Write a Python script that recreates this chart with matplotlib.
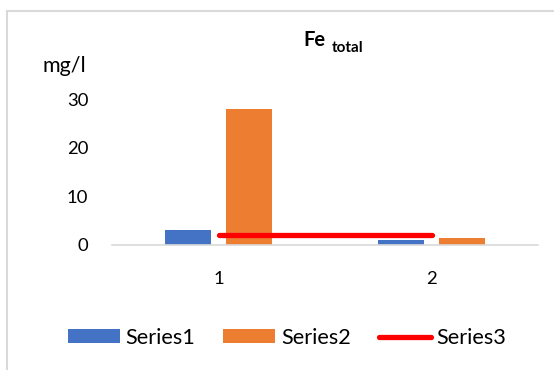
import matplotlib.pyplot as plt
from matplotlib.patches import Patch, Rectangle
from matplotlib.lines import Line2D

# Fe total concentration per sampling point
categories = ["1", "2"]
series1 = [3.0, 1.0]
series2 = [28.0, 1.4]
series3 = [1.9, 1.9]
y_ticks = [0, 10, 20, 30]

BLUE = "#4472C4"
ORANGE = "#ED7D31"
RED = "#FF0000"
GRID = "#D9D9D9"

plt.rcParams["font.family"] = ["Lato", "DejaVu Sans"]

W, H = 554, 370
fig = plt.figure(figsize=(W / 100, H / 100), dpi=100)
ax = fig.add_axes([112 / W, 1 - 244.5 / H, 426 / W, 145.2 / H])

x = list(range(len(categories)))
width = 0.22
offset = 0.143
ax.bar([i - offset for i in x], series1, width, color=BLUE, zorder=2)
ax.bar([i + offset for i in x], series2, width, color=ORANGE, zorder=2)
ax.plot(x, series3, color=RED, lw=3.8, solid_capstyle="round", zorder=3)

ax.set_xlim(-0.5, 1.5)
ax.set_ylim(0, 30)
ax.set_xticks(x)
ax.set_xticklabels(categories)
ax.set_yticks(y_ticks)
ax.tick_params(axis="both", length=0, labelsize=13.3, colors="#000000")
ax.tick_params(axis="y", pad=17)
ax.tick_params(axis="x", pad=19)
for side in ["top", "right", "left"]:
    ax.spines[side].set_visible(False)
ax.spines["bottom"].set_color(GRID)
ax.spines["bottom"].set_linewidth(1.2)

# title "Fe" with a lowered "total"
fig.text(303 / W, 1 - 46 / H, "Fe", ha="left", va="baseline", fontsize=14.5, fontweight="bold")
fig.text(332 / W, 1 - 52.3 / H, "total", ha="left", va="baseline", fontsize=11, fontweight="bold")
fig.text(42 / W, 1 - 66 / H, "mg/l", ha="left", va="center", fontsize=15.5)

handles = [
    Patch(facecolor=BLUE, label="Series1"),
    Patch(facecolor=ORANGE, label="Series2"),
    Line2D([0], [0], color=RED, lw=3.8, solid_capstyle="round", label="Series3"),
]
fig.legend(handles=handles, loc="center", bbox_to_anchor=(287 / W, 1 - 338 / H), ncol=3,
           frameon=False, fontsize=15.6, handlelength=2.4, handleheight=0.6,
           handletextpad=0.26, columnspacing=1.29, borderpad=0)

# chart area border
fig.patches.append(Rectangle((7 / W, -0.1), 1.2, 1 - 10.5 / H + 0.1, transform=fig.transFigure,
                             fill=False, edgecolor=GRID, lw=1.5))

fig.savefig("out.png", dpi=100)
